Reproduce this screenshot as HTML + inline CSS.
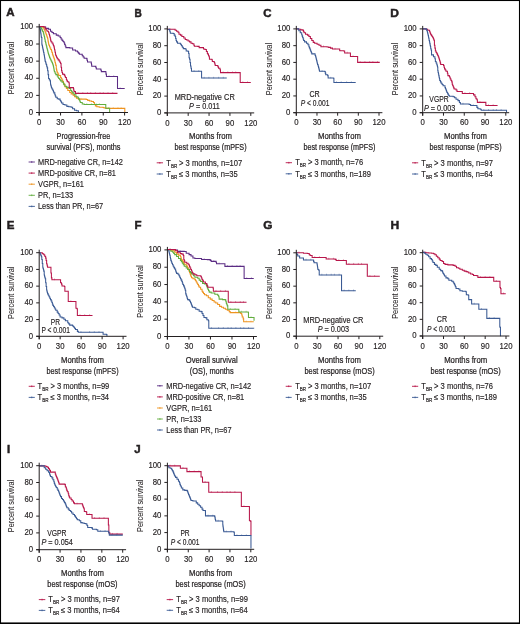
<!DOCTYPE html>
<html><head><meta charset="utf-8"><style>
html,body{margin:0;padding:0;background:#fff;}
body{width:520px;height:624px;overflow:hidden;position:relative;}
svg{position:absolute;left:0;top:0;display:block;will-change:transform;}
text{font-family:"Liberation Sans",sans-serif;fill:#231f20;stroke:#231f20;stroke-width:0.16px;}
.c{fill:none;stroke-width:1.05;stroke-linejoin:miter;}
.ax{fill:none;stroke:#231f20;stroke-width:1;}
.lm{fill:none;stroke-width:0.9;}
.cm{fill:none;stroke-width:0.7;opacity:0.6;}
</style></head><body>
<svg width="520" height="624" viewBox="0 0 520 624">
<rect x="0.5" y="0.5" width="519" height="622.75" fill="none" stroke="#000" stroke-width="1.1"/>
<rect x="0" y="622.6" width="520" height="1.4" fill="#000"/>
<text transform="translate(6.30 16.40) scale(1.000 1)" font-size="11.5" font-weight="bold" style="stroke-width:0.5px">A</text>
<path d="M39.44 26.44H42.81V26.92H45.69V28.37H48.58V29.33H50.50V31.25H51.94V32.45H53.38V33.65H56.27V35.10H58.19V36.06H60.12V37.50H61.08V38.94H62.04V40.38H63.00V41.59H63.96V42.79H64.60V44.39H65.24V45.99H65.88V47.60H69.73V48.08H72.62V50.00H75.50V50.96H77.42V51.92H78.38V53.12H79.35V54.33H82.23V55.77H83.19V56.97H84.15V58.17H86.73V58.85H87.12V60.43H87.50V62.02H91.06H91.28V63.40H91.51V64.78H91.73V66.15H95.38V66.35H95.87V67.69H96.35V69.04H100.67V69.23H101.01V70.43H101.35V71.63H105.48V71.73H105.96V74.13H106.44V76.54H117.02H117.50V88.56H124.71" stroke="#5b2c84" class="c"/>
<path d="M109.04 75.34v1.6M113.74 75.34v1.6M120.10 87.36v1.6" stroke="#5b2c84" class="cm"/>
<path d="M39.44 26.44H42.81V27.40H43.77V29.09H44.73V30.77H45.21V32.05H45.69V33.33H46.17V34.62H46.65V35.90H47.13V37.18H47.62V38.46H47.86V39.90H48.10V41.35H48.34V42.79H48.58V44.23H49.06V45.51H49.54V46.79H50.02V48.08H50.74V49.52H51.46V50.96H51.94V52.56H52.42V54.17H52.90V55.77H53.38V57.05H53.87V58.33H54.35V59.62H54.71V61.06H55.07V62.50H55.43V63.94H55.79V65.38H56.27V68.85H56.59V70.13H56.91V71.41H57.23V72.69H57.95V74.13H58.67V75.58H60.60V77.50H61.32V78.70H62.04V79.90H62.76V81.59H63.48V83.27H64.20V84.95H64.92V86.63H66.37V88.56H67.81V90.48H69.73V92.40H71.17V93.85H73.10V95.29H74.54V96.73H76.46V98.17H78.38V99.13H86.25V99.42H87.69V100.38H89.62V101.06H91.54V101.54H93.46V102.50H94.42V104.42H95.38V105.87H96.83V106.83H99.23V107.31H103.08V107.50H104.04V108.08H105.96V108.37H124.71H124.81V112.31" stroke="#ee9420" class="c"/>
<path d="M80.98 97.93v1.6M108.56 107.17v1.6M113.26 107.17v1.6M117.96 107.17v1.6M121.16 107.17v1.6" stroke="#ee9420" class="cm"/>
<path d="M39.44 26.44H40.40V27.64H41.37V28.85H42.01V30.13H42.65V31.41H43.29V32.69H43.61V33.97H43.93V35.26H44.25V36.54H44.57V38.14H44.89V39.74H45.21V41.35H45.57V42.79H45.93V44.23H46.29V45.67H46.65V47.12H46.97V48.40H47.29V49.68H47.62V50.96H47.94V52.24H48.26V53.53H48.58V54.81H49.06V56.09H49.54V57.37H50.02V58.65H50.66V59.94H51.30V61.22H51.94V62.50H52.42V63.78H52.90V65.06H53.38V66.35H53.62V67.69H53.87V69.04H54.11V70.38H54.35V71.73H55.07V73.17H55.79V74.62H57.23V76.06H57.95V77.26H58.67V78.46H59.63V79.66H60.60V80.87H62.04V82.31H63.48V84.23H64.92V86.15H66.37V87.12H67.81V87.60H69.25V88.56H70.69V90.48H71.65V91.68H72.62V92.88H74.06V94.81H75.98V96.73H77.90V97.69H78.62V98.89H79.35V100.10H79.83V101.30H80.31V102.50H82.23V103.94H84.15V104.42H105.48H105.77V108.27H109.33H109.62V112.31" stroke="#62ae3e" class="c"/>
<path d="M86.75 103.22v1.6M91.45 103.22v1.6M96.15 103.22v1.6M99.35 103.22v1.6" stroke="#62ae3e" class="cm"/>
<path d="M39.44 26.44H39.76V27.88H40.08V29.33H40.40V30.77H40.60V32.12H40.79V33.46H40.98V34.81H41.17V36.15H41.37V37.50H41.85V44.23H42.13V45.58H42.42V46.92H42.71V48.27H43.00V49.62H43.29V50.96H43.61V52.56H43.93V54.17H44.25V55.77H44.49V57.21H44.73V58.65H44.97V60.10H45.21V61.54H45.69V62.98H46.17V64.42H46.65V66.15H47.13V67.88H47.62V70.77H48.10V74.62H48.58V78.46H49.30V79.66H50.02V80.87H50.50V84.23H50.82V85.51H51.14V86.79H51.46V88.08H52.18V89.28H52.90V90.48H53.38V91.68H53.87V92.88H54.83V94.81H55.31V96.01H55.79V97.21H57.23V98.65H58.67V99.13H60.12V100.58H60.84V101.78H61.56V102.98H63.00V104.42H64.92V104.90H66.85V106.35H68.77V106.83H71.17V107.31H72.62V108.75H74.54V110.19H76.46V110.67H78.38V111.92" stroke="#3a5a94" class="c"/>
<path d="M39.44 26.44H43.77V26.92H45.21V28.85H46.17V30.05H47.13V31.25H48.58V32.69H49.06V34.29H49.54V35.90H50.02V37.50H50.34V38.94H50.66V40.38H50.98V41.83H51.94V43.03H52.90V44.23H53.38V45.43H53.87V46.63H54.19V48.08H54.51V49.52H54.83V50.96H55.15V52.56H55.47V54.17H55.79V55.77H56.51V57.21H57.23V58.65H58.19V59.86H59.15V61.06H59.88V62.26H60.60V63.46H61.08V67.31H61.56V70.77H62.04V72.45H62.52V74.13H63.96V74.62H64.68V76.06H65.40V77.50H66.37V79.42H66.85V80.62H67.33V81.83H68.77V82.79H69.25V87.60H73.10H73.42V88.88H73.74V90.16H74.06V91.44H75.50V93.37H117.50" stroke="#b8164a" class="c"/>
<path d="M78.10 92.17v1.6M82.80 92.17v1.6M87.50 92.17v1.6M90.70 92.17v1.6M95.40 92.17v1.6M100.10 92.17v1.6M103.30 92.17v1.6M108.00 92.17v1.6M112.70 92.17v1.6" stroke="#b8164a" class="cm"/>
<path d="M39.20 23.90V115.50M36.20 112.50H128.00" class="ax"/>
<text transform="translate(33.20 114.70) scale(0.907 1)" font-size="8.60" text-anchor="end">0</text>
<text transform="translate(33.20 97.58) scale(0.907 1)" font-size="8.60" text-anchor="end">20</text>
<text transform="translate(33.20 80.46) scale(0.907 1)" font-size="8.60" text-anchor="end">40</text>
<text transform="translate(33.20 63.34) scale(0.907 1)" font-size="8.60" text-anchor="end">60</text>
<text transform="translate(33.20 46.22) scale(0.907 1)" font-size="8.60" text-anchor="end">80</text>
<text transform="translate(33.20 29.10) scale(0.907 1)" font-size="8.60" text-anchor="end">100</text>
<text transform="translate(39.20 125.10) scale(0.907 1)" font-size="8.60" text-anchor="middle">0</text>
<text transform="translate(60.55 125.10) scale(0.907 1)" font-size="8.60" text-anchor="middle">30</text>
<text transform="translate(81.90 125.10) scale(0.907 1)" font-size="8.60" text-anchor="middle">60</text>
<text transform="translate(103.25 125.10) scale(0.907 1)" font-size="8.60" text-anchor="middle">90</text>
<text transform="translate(124.60 125.10) scale(0.907 1)" font-size="8.60" text-anchor="middle">120</text>
<path d="M36.20 112.50H39.20M36.20 95.38H39.20M36.20 78.26H39.20M36.20 61.14H39.20M36.20 44.02H39.20M36.20 26.90H39.20M39.20 112.50V115.50M60.55 112.50V115.50M81.90 112.50V115.50M103.25 112.50V115.50M124.60 112.50V115.50" class="ax"/>
<text transform="translate(14.40 68.00) rotate(-90)" x="0" y="0" font-size="9.40" text-anchor="middle" textLength="52.3" lengthAdjust="spacingAndGlyphs" style="stroke-width:0.05px">Percent survival</text>
<text x="83.50" y="138.50" font-size="9.40" text-anchor="middle" textLength="53.80" lengthAdjust="spacingAndGlyphs" style="stroke-width:0.24px">Progression-free</text>
<text x="83.50" y="149.60" font-size="9.40" text-anchor="middle" textLength="74.00" lengthAdjust="spacingAndGlyphs" style="stroke-width:0.24px">survival (PFS), months</text>
<path d="M28.60 162.00H34.90M31.75 161.20v1.6" stroke="#5b2c84" class="lm"/>
<text transform="translate(38.00 164.70) scale(0.892 1)" font-size="8.30" text-anchor="start">MRD-negative CR, n=142</text>
<path d="M28.60 173.10H34.90M31.75 172.30v1.6" stroke="#b8164a" class="lm"/>
<text transform="translate(38.00 175.80) scale(0.892 1)" font-size="8.30" text-anchor="start">MRD-positive CR, n=81</text>
<path d="M28.60 184.20H34.90M31.75 183.40v1.6" stroke="#ee9420" class="lm"/>
<text transform="translate(38.00 186.90) scale(0.892 1)" font-size="8.30" text-anchor="start">VGPR, n=161</text>
<path d="M28.60 195.30H34.90M31.75 194.50v1.6" stroke="#62ae3e" class="lm"/>
<text transform="translate(38.00 198.00) scale(0.892 1)" font-size="8.30" text-anchor="start">PR, n=133</text>
<path d="M28.60 206.40H34.90M31.75 205.60v1.6" stroke="#3a5a94" class="lm"/>
<text transform="translate(38.00 209.10) scale(0.892 1)" font-size="8.30" text-anchor="start">Less than PR, n=67</text>
<text transform="translate(134.60 16.60) scale(0.880 1)" font-size="11.5" font-weight="bold" style="stroke-width:0.5px">B</text>
<path d="M167.35 29.17H174.65H175.13V30.33H176.58V31.29H178.02V32.25H178.98V34.17H180.42V35.13H181.87V36.58H183.79V38.02H185.23V39.46H186.67V39.94H188.12V40.90H189.56V41.87H191.00V43.31H192.44V43.79H193.88V45.23H194.37V46.19H197.73V46.38H199.17V47.63H202.54H203.50V49.08H204.94V49.56H206.38V51.48H207.35V53.40H208.00V54.37H208.48V55.57H208.96V56.77H209.44V59.17H211.85V59.65H212.33V61.58H214.25V62.54H214.73V63.98H215.21V65.42H217.62V65.90H218.10V67.11H218.58V68.31H220.02V69.75H220.50V72.63H239.73V72.54H240.21V82.54H250.79" stroke="#b8164a" class="c"/>
<path d="M169.95 27.97v1.6M223.10 71.43v1.6M227.80 71.43v1.6M232.50 71.43v1.6M235.70 71.43v1.6M242.81 81.34v1.6M247.51 81.34v1.6" stroke="#b8164a" class="cm"/>
<path d="M167.35 29.17H169.37V29.85H169.85V31.77H170.33V33.21H173.21V33.50H174.17V35.13H175.13V36.58H175.62V38.50H176.10V40.42H176.58V41.87H177.54V43.31H179.94H180.42V44.27H181.38V45.71H182.35V47.15H183.31V48.60H185.23V49.08H186.19V51.00H188.12V51.48H188.60V53.40H189.08V57.73H189.56V59.17H190.04V62.54H190.52V65.90H191.00V68.31H191.48V71.29H201.10H201.58V78.02H216.00H226.75" stroke="#3a5a94" class="c"/>
<path d="M194.08 70.09v1.6M198.78 70.09v1.6M204.18 76.82v1.6M208.88 76.82v1.6M213.58 76.82v1.6M218.60 76.82v1.6M223.30 76.82v1.6" stroke="#3a5a94" class="cm"/>
<path d="M167.30 25.90V115.90M164.30 112.90H254.20" class="ax"/>
<text transform="translate(161.30 115.10) scale(0.907 1)" font-size="8.60" text-anchor="end">0</text>
<text transform="translate(161.30 98.30) scale(0.907 1)" font-size="8.60" text-anchor="end">20</text>
<text transform="translate(161.30 81.50) scale(0.907 1)" font-size="8.60" text-anchor="end">40</text>
<text transform="translate(161.30 64.70) scale(0.907 1)" font-size="8.60" text-anchor="end">60</text>
<text transform="translate(161.30 47.90) scale(0.907 1)" font-size="8.60" text-anchor="end">80</text>
<text transform="translate(161.30 31.10) scale(0.907 1)" font-size="8.60" text-anchor="end">100</text>
<text transform="translate(167.30 125.50) scale(0.907 1)" font-size="8.60" text-anchor="middle">0</text>
<text transform="translate(188.18 125.50) scale(0.907 1)" font-size="8.60" text-anchor="middle">30</text>
<text transform="translate(209.05 125.50) scale(0.907 1)" font-size="8.60" text-anchor="middle">60</text>
<text transform="translate(229.93 125.50) scale(0.907 1)" font-size="8.60" text-anchor="middle">90</text>
<text transform="translate(250.80 125.50) scale(0.907 1)" font-size="8.60" text-anchor="middle">120</text>
<path d="M164.30 112.90H167.30M164.30 96.10H167.30M164.30 79.30H167.30M164.30 62.50H167.30M164.30 45.70H167.30M164.30 28.90H167.30M167.30 112.90V115.90M188.18 112.90V115.90M209.05 112.90V115.90M229.93 112.90V115.90M250.80 112.90V115.90" class="ax"/>
<text transform="translate(142.50 69.20) rotate(-90)" x="0" y="0" font-size="9.40" text-anchor="middle" textLength="52.3" lengthAdjust="spacingAndGlyphs" style="stroke-width:0.05px">Percent survival</text>
<text x="210.55" y="138.50" font-size="9.40" text-anchor="middle" textLength="43.00" lengthAdjust="spacingAndGlyphs" style="stroke-width:0.24px">Months from</text>
<text x="210.55" y="149.60" font-size="9.40" text-anchor="middle" textLength="72.00" lengthAdjust="spacingAndGlyphs" style="stroke-width:0.24px">best response (mPFS)</text>
<text transform="translate(204.70 100.40) scale(0.892 1)" font-size="8.30" text-anchor="middle">MRD-negative CR</text>
<text transform="translate(204.50 108.90) scale(0.878 1)" font-size="8.30" text-anchor="middle"><tspan font-style="italic">P</tspan> = 0.011</text>
<path d="M156.70 162.80H163.00M159.85 162.00v1.6" stroke="#b8164a" class="lm"/>
<text transform="translate(166.30 165.50) scale(0.914 1)" font-size="8.30" text-anchor="start">T<tspan font-size="5.0" dy="2.0">BR</tspan><tspan dy="-2.0" dx="2.0">&gt; 3 months, n=107</tspan></text>
<path d="M156.70 174.00H163.00M159.85 173.20v1.6" stroke="#3a5a94" class="lm"/>
<text transform="translate(166.30 176.70) scale(0.914 1)" font-size="8.30" text-anchor="start">T<tspan font-size="5.0" dy="2.0">BR</tspan><tspan dy="-2.0" dx="2.0">≤ 3 months, n=35</tspan></text>
<text transform="translate(263.20 16.60) scale(1.000 1)" font-size="11.5" font-weight="bold" style="stroke-width:0.5px">C</text>
<path d="M296.31 28.88H298.33V29.17H300.73V29.85H303.13V30.62H303.62V31.67H304.10V32.73H305.54V34.17H307.46V35.13H308.90V36.58H310.35V38.50H311.79V40.42H313.23V42.35H314.67V43.31H317.08V44.27H319.00V45.23H320.92V46.67H327.17V46.96H328.62V47.35H330.54V48.12H332.46V49.08H338.71H339.67V50.52H339.85V50.81H343.69V51.00H344.65V52.92H349.94H350.42V56.58H357.15H357.63V62.35H379.75" stroke="#b8164a" class="c"/>
<path d="M323.52 45.47v1.6M335.06 47.88v1.6M347.25 51.72v1.6M353.02 55.38v1.6M360.23 61.15v1.6M364.93 61.15v1.6M369.63 61.15v1.6M372.83 61.15v1.6M377.53 61.15v1.6" stroke="#b8164a" class="cm"/>
<path d="M296.31 28.88H298.81V30.81H300.25V32.73H301.69V34.65H302.17V36.10H302.65V37.54H303.13V38.98H303.62V40.42H304.58V41.87H306.50V43.31H307.94V44.75H308.90V46.67H309.38V47.88H309.87V49.08H310.35V50.28H310.83V51.48H311.31V52.68H311.79V53.88H314.67V54.08H315.15V55.42H315.63V56.77H315.96V58.05H316.28V59.33H316.60V60.62H316.92V61.90H317.24V63.18H317.56V64.46H318.04V65.90H318.52V67.35H318.84V68.66H319.16V69.97H319.48V71.29H324.77V71.58H325.25V73.12H325.73V74.65H327.65V75.62H328.13V78.02H333.42V78.31H333.90V82.54H344.00H355.71" stroke="#3a5a94" class="c"/>
<path d="M322.08 70.09v1.6M330.73 76.82v1.6M336.50 81.34v1.6M341.20 81.34v1.6M346.60 81.34v1.6M351.30 81.34v1.6" stroke="#3a5a94" class="cm"/>
<path d="M296.30 25.90V115.70M293.30 112.70H382.40" class="ax"/>
<text transform="translate(290.30 114.90) scale(0.907 1)" font-size="8.60" text-anchor="end">0</text>
<text transform="translate(290.30 98.14) scale(0.907 1)" font-size="8.60" text-anchor="end">20</text>
<text transform="translate(290.30 81.38) scale(0.907 1)" font-size="8.60" text-anchor="end">40</text>
<text transform="translate(290.30 64.62) scale(0.907 1)" font-size="8.60" text-anchor="end">60</text>
<text transform="translate(290.30 47.86) scale(0.907 1)" font-size="8.60" text-anchor="end">80</text>
<text transform="translate(290.30 31.10) scale(0.907 1)" font-size="8.60" text-anchor="end">100</text>
<text transform="translate(296.30 125.30) scale(0.907 1)" font-size="8.60" text-anchor="middle">0</text>
<text transform="translate(316.98 125.30) scale(0.907 1)" font-size="8.60" text-anchor="middle">30</text>
<text transform="translate(337.65 125.30) scale(0.907 1)" font-size="8.60" text-anchor="middle">60</text>
<text transform="translate(358.32 125.30) scale(0.907 1)" font-size="8.60" text-anchor="middle">90</text>
<text transform="translate(379.00 125.30) scale(0.907 1)" font-size="8.60" text-anchor="middle">120</text>
<path d="M293.30 112.70H296.30M293.30 95.94H296.30M293.30 79.18H296.30M293.30 62.42H296.30M293.30 45.66H296.30M293.30 28.90H296.30M296.30 112.70V115.70M316.98 112.70V115.70M337.65 112.70V115.70M358.32 112.70V115.70M379.00 112.70V115.70" class="ax"/>
<text transform="translate(271.50 69.10) rotate(-90)" x="0" y="0" font-size="9.40" text-anchor="middle" textLength="52.3" lengthAdjust="spacingAndGlyphs" style="stroke-width:0.05px">Percent survival</text>
<text x="339.45" y="138.50" font-size="9.40" text-anchor="middle" textLength="43.00" lengthAdjust="spacingAndGlyphs" style="stroke-width:0.24px">Months from</text>
<text x="339.45" y="149.60" font-size="9.40" text-anchor="middle" textLength="72.00" lengthAdjust="spacingAndGlyphs" style="stroke-width:0.24px">best response (mPFS)</text>
<text transform="translate(314.60 96.60) scale(0.856 1)" font-size="8.30" text-anchor="middle">CR</text>
<text transform="translate(315.00 106.30) scale(0.802 1)" font-size="8.30" text-anchor="middle"><tspan font-style="italic">P</tspan> &lt; 0.001</text>
<path d="M285.70 162.70H292.00M288.85 161.90v1.6" stroke="#b8164a" class="lm"/>
<text transform="translate(295.20 165.40) scale(0.914 1)" font-size="8.30" text-anchor="start">T<tspan font-size="5.0" dy="2.0">BR</tspan><tspan dy="-2.0" dx="2.0">&gt; 3 month, n=76</tspan></text>
<path d="M285.70 173.80H292.00M288.85 173.00v1.6" stroke="#3a5a94" class="lm"/>
<text transform="translate(295.20 176.50) scale(0.914 1)" font-size="8.30" text-anchor="start">T<tspan font-size="5.0" dy="2.0">BR</tspan><tspan dy="-2.0" dx="2.0">≤ 3 months, n=189</tspan></text>
<text transform="translate(390.30 16.60) scale(1.040 1)" font-size="11.5" font-weight="bold" style="stroke-width:0.5px">D</text>
<path d="M422.88 28.88H426.25V29.17H427.69V30.33H429.62V31.77H430.10V32.97H430.58V34.17H431.30V35.38H432.02V36.58H432.74V37.78H433.46V38.98H433.94V40.18H434.42V41.38V45.23H434.90V48.12H435.38V51.00H436.11V52.44H436.83V53.88H437.55V55.33H438.27V56.77H438.75V57.97H439.23V59.17H439.59V60.50H439.95V61.82H440.31V63.14H440.67V64.46H442.60H443.56V65.42H444.04V67.15H444.52V68.88H445.24V70.09H445.96V71.29H447.40V73.21H447.88V75.62H449.33V76.58H449.81V77.78H450.29V78.98H451.01V80.42H451.73V81.87H452.21V84.27H452.69V85.47H453.17V86.67H453.65V87.88H454.13V89.08H456.06V90.04H457.02V91.48H461.35H462.31V93.40H472.58H473.54V94.85H474.98V96.77H475.94V98.69H476.90V99.65H477.38V102.35H485.56H485.85V105.42H497.58" stroke="#b8164a" class="c"/>
<path d="M464.91 92.20v1.6M469.61 92.20v1.6M479.98 101.15v1.6M488.45 104.22v1.6M493.15 104.22v1.6" stroke="#b8164a" class="cm"/>
<path d="M422.88 28.88H426.25V29.37H426.73V30.57H427.21V31.77H427.53V33.05H427.85V34.33H428.17V35.62H428.49V37.22H428.81V38.82H429.13V40.42H429.46V42.03H429.78V43.63H430.10V45.23H430.42V46.83H430.74V48.44H431.06V50.04H431.54V54.85H433.46V56.77H434.90V58.69H435.38V61.58H436.11V63.02H436.83V64.46H437.15V65.74H437.47V67.03H437.79V68.31V70.81H438.11V72.41H438.43V74.01H438.75V75.62H439.07V77.22H439.39V78.82H439.71V80.42H440.43V81.87H441.15V83.31H442.12V84.51H443.08V85.71H445.00V87.63H445.48V88.84H445.96V90.04H446.44V91.24H446.92V92.44H447.64V93.88H448.37V95.33H449.33V96.29H453.17V96.77H454.62V97.73H456.06V99.17H457.98V100.62H459.42V102.54H460.38V103.98H468.08H468.25H469.21V104.46H470.65V105.42H476.42H476.90V107.35H477.87V108.79H480.27V109.27H481.23V110.23H506.23H506.52V112.35" stroke="#3a5a94" class="c"/>
<path d="M462.98 102.78v1.6M473.25 104.22v1.6M483.83 109.03v1.6M488.53 109.03v1.6M493.23 109.03v1.6M496.43 109.03v1.6M501.13 109.03v1.6" stroke="#3a5a94" class="cm"/>
<path d="M422.70 25.90V115.70M419.70 112.70H509.20" class="ax"/>
<text transform="translate(416.70 114.90) scale(0.907 1)" font-size="8.60" text-anchor="end">0</text>
<text transform="translate(416.70 98.14) scale(0.907 1)" font-size="8.60" text-anchor="end">20</text>
<text transform="translate(416.70 81.38) scale(0.907 1)" font-size="8.60" text-anchor="end">40</text>
<text transform="translate(416.70 64.62) scale(0.907 1)" font-size="8.60" text-anchor="end">60</text>
<text transform="translate(416.70 47.86) scale(0.907 1)" font-size="8.60" text-anchor="end">80</text>
<text transform="translate(416.70 31.10) scale(0.907 1)" font-size="8.60" text-anchor="end">100</text>
<text transform="translate(422.70 125.30) scale(0.907 1)" font-size="8.60" text-anchor="middle">0</text>
<text transform="translate(443.48 125.30) scale(0.907 1)" font-size="8.60" text-anchor="middle">30</text>
<text transform="translate(464.25 125.30) scale(0.907 1)" font-size="8.60" text-anchor="middle">60</text>
<text transform="translate(485.02 125.30) scale(0.907 1)" font-size="8.60" text-anchor="middle">90</text>
<text transform="translate(505.80 125.30) scale(0.907 1)" font-size="8.60" text-anchor="middle">120</text>
<path d="M419.70 112.70H422.70M419.70 95.94H422.70M419.70 79.18H422.70M419.70 62.42H422.70M419.70 45.66H422.70M419.70 28.90H422.70M422.70 112.70V115.70M443.48 112.70V115.70M464.25 112.70V115.70M485.02 112.70V115.70M505.80 112.70V115.70" class="ax"/>
<text transform="translate(397.90 69.10) rotate(-90)" x="0" y="0" font-size="9.40" text-anchor="middle" textLength="52.3" lengthAdjust="spacingAndGlyphs" style="stroke-width:0.05px">Percent survival</text>
<text x="465.55" y="138.50" font-size="9.40" text-anchor="middle" textLength="43.00" lengthAdjust="spacingAndGlyphs" style="stroke-width:0.24px">Months from</text>
<text x="465.55" y="149.60" font-size="9.40" text-anchor="middle" textLength="72.00" lengthAdjust="spacingAndGlyphs" style="stroke-width:0.24px">best response (mPFS)</text>
<text transform="translate(439.00 101.80) scale(0.820 1)" font-size="8.30" text-anchor="middle">VGPR</text>
<text transform="translate(439.60 111.00) scale(0.878 1)" font-size="8.30" text-anchor="middle"><tspan font-style="italic">P</tspan> = 0.003</text>
<path d="M412.00 162.80H418.20M415.10 162.00v1.6" stroke="#b8164a" class="lm"/>
<text transform="translate(421.30 165.50) scale(0.914 1)" font-size="8.30" text-anchor="start">T<tspan font-size="5.0" dy="2.0">BR</tspan><tspan dy="-2.0" dx="2.0">&gt; 3 months, n=97</tspan></text>
<path d="M412.00 174.00H418.20M415.10 173.20v1.6" stroke="#3a5a94" class="lm"/>
<text transform="translate(421.30 176.70) scale(0.914 1)" font-size="8.30" text-anchor="start">T<tspan font-size="5.0" dy="2.0">BR</tspan><tspan dy="-2.0" dx="2.0">≤ 3 months, n=64</tspan></text>
<text transform="translate(6.70 228.90) scale(1.000 1)" font-size="11.5" font-weight="bold" style="stroke-width:0.5px">E</text>
<path d="M39.21 252.65H41.81H42.29V253.81H43.73V254.77H44.69V256.21H45.65V258.13H46.13V260.54H46.62V263.42H46.94V264.71H47.26V265.99H47.58V267.27H50.46H50.94V273.04H51.42V277.85H51.90V279.77H60.08H60.56V282.65H61.52V284.10H62.00V286.02H64.40V286.50H64.88V291.31H68.25V301.54H75.46H75.94V308.27H76.90V308.75H77.38V315.48H87.00H92.50" stroke="#b8164a" class="c"/>
<path d="M54.50 278.57v1.6M70.85 300.34v1.6M79.98 314.28v1.6M84.68 314.28v1.6M89.60 314.28v1.6" stroke="#b8164a" class="cm"/>
<path d="M39.21 252.65H40.37V254.29H40.85V255.49H41.33V256.69H41.81V259.58H42.29V263.42H42.77V267.27H43.09V268.55H43.41V269.83H43.73V271.12H44.21V274.96H44.53V276.24H44.85V277.53H45.17V278.81H45.65V282.65H46.13V286.50H46.62V290.00H46.94V291.28H47.26V292.56H47.58V293.85H48.30V295.29H49.02V296.73H49.74V298.17H50.46V299.62H51.18V301.06H51.90V302.50H52.38V303.94H52.87V305.38H53.59V306.59H54.31V307.79H55.03V308.99H55.75V310.19H57.19V312.12H58.15V313.56H59.12V315.00H60.08V316.92H62.00V317.88H63.92V319.33H65.37V320.77H67.77V322.69H68.73V323.89H69.69V325.10H72.58V326.06H73.54V327.02H74.50V328.22H75.46V329.42H77.38V331.35H78.35V332.31H87.00H102.60H103.08V334.23H106.44V334.42H106.92V336.15" stroke="#3a5a94" class="c"/>
<path d="M80.95 331.11v1.6M89.60 331.11v1.6M94.30 331.11v1.6M99.00 331.11v1.6" stroke="#3a5a94" class="cm"/>
<path d="M39.20 249.70V339.30M36.20 336.30H126.50" class="ax"/>
<text transform="translate(33.20 338.50) scale(0.907 1)" font-size="8.60" text-anchor="end">0</text>
<text transform="translate(33.20 321.78) scale(0.907 1)" font-size="8.60" text-anchor="end">20</text>
<text transform="translate(33.20 305.06) scale(0.907 1)" font-size="8.60" text-anchor="end">40</text>
<text transform="translate(33.20 288.34) scale(0.907 1)" font-size="8.60" text-anchor="end">60</text>
<text transform="translate(33.20 271.62) scale(0.907 1)" font-size="8.60" text-anchor="end">80</text>
<text transform="translate(33.20 254.90) scale(0.907 1)" font-size="8.60" text-anchor="end">100</text>
<text transform="translate(39.20 348.90) scale(0.907 1)" font-size="8.60" text-anchor="middle">0</text>
<text transform="translate(60.17 348.90) scale(0.907 1)" font-size="8.60" text-anchor="middle">30</text>
<text transform="translate(81.15 348.90) scale(0.907 1)" font-size="8.60" text-anchor="middle">60</text>
<text transform="translate(102.12 348.90) scale(0.907 1)" font-size="8.60" text-anchor="middle">90</text>
<text transform="translate(123.10 348.90) scale(0.907 1)" font-size="8.60" text-anchor="middle">120</text>
<path d="M36.20 336.30H39.20M36.20 319.58H39.20M36.20 302.86H39.20M36.20 286.14H39.20M36.20 269.42H39.20M36.20 252.70H39.20M39.20 336.30V339.30M60.17 336.30V339.30M81.15 336.30V339.30M102.12 336.30V339.30M123.10 336.30V339.30" class="ax"/>
<text transform="translate(14.40 292.80) rotate(-90)" x="0" y="0" font-size="9.40" text-anchor="middle" textLength="52.3" lengthAdjust="spacingAndGlyphs" style="stroke-width:0.05px">Percent survival</text>
<text x="82.55" y="362.50" font-size="9.40" text-anchor="middle" textLength="43.00" lengthAdjust="spacingAndGlyphs" style="stroke-width:0.24px">Months from</text>
<text x="82.55" y="373.60" font-size="9.40" text-anchor="middle" textLength="72.00" lengthAdjust="spacingAndGlyphs" style="stroke-width:0.24px">best response (mPFS)</text>
<text transform="translate(55.40 324.90) scale(0.802 1)" font-size="8.30" text-anchor="middle">PR</text>
<text transform="translate(55.70 332.90) scale(0.802 1)" font-size="8.30" text-anchor="middle">P &lt; 0.001</text>
<path d="M28.70 386.30H34.80M31.75 385.50v1.6" stroke="#b8164a" class="lm"/>
<text transform="translate(37.60 389.00) scale(0.914 1)" font-size="8.30" text-anchor="start">T<tspan font-size="5.0" dy="2.0">BR</tspan><tspan dy="-2.0" dx="2.0">&gt; 3 months, n=99</tspan></text>
<path d="M28.70 397.40H34.80M31.75 396.60v1.6" stroke="#3a5a94" class="lm"/>
<text transform="translate(37.60 400.10) scale(0.914 1)" font-size="8.30" text-anchor="start">T<tspan font-size="5.0" dy="2.0">BR</tspan><tspan dy="-2.0" dx="2.0">≤ 3 months, n=34</tspan></text>
<text transform="translate(134.60 228.90) scale(1.000 1)" font-size="11.5" font-weight="bold" style="stroke-width:0.5px">F</text>
<path d="M167.44 249.81H173.69V250.00H177.54V251.35H184.27V251.54H186.19V253.17H189.08V254.62H191.00V256.06H192.92V257.98H194.85V258.46H198.69H201.58V259.42H207.35V259.62H210.23V260.38H211.19V261.35H215.77H216.15V262.55H216.54V263.75H224.42H224.90V266.35H243.85H244.13V278.46H253.75" stroke="#5b2c84" class="c"/>
<path d="M170.04 248.61v1.6M180.14 250.15v1.6M204.18 258.22v1.6M213.79 260.15v1.6M219.14 262.55v1.6M227.50 265.15v1.6M232.20 265.15v1.6M236.90 265.15v1.6M240.10 265.15v1.6M246.73 277.26v1.6M251.43 277.26v1.6" stroke="#5b2c84" class="cm"/>
<path d="M167.44 249.81H171.77V250.77H174.65V252.21H176.58V254.13H178.50V255.10H180.42V256.54H180.90V257.98H181.38V259.42H182.11V260.62H182.83V261.83H183.55V263.03H184.27V264.23H186.19V265.19H186.91V266.39H187.63V267.60H188.12V268.80H188.60V270.00H189.08V271.28H189.56V272.56H190.04V273.85H190.52V275.13H191.00V276.41H191.48V277.69H192.92V278.65H194.85V279.62H195.57V280.82H196.29V282.02H197.01V283.22H197.73V284.42H198.45V285.87H199.17V287.31H200.62V289.23H202.06V291.15H202.78V292.36H203.50V293.56H204.46V294.81H206.38V295.77H208.31V297.69H210.23V299.13H212.15V300.58H214.08V302.02H215.77V302.98H217.69V304.42H219.62V306.35H221.54V307.31H223.46V308.27H225.38V309.23H227.31V310.19H229.23V311.63H230.19V312.60H233.08H239.81H240.77V313.56H241.73V315.00H242.21V316.92H243.17V318.85H243.65V321.73H253.75" stroke="#ee9420" class="c"/>
<path d="M235.68 311.40v1.6M246.25 320.53v1.6M250.95 320.53v1.6" stroke="#ee9420" class="cm"/>
<path d="M167.44 249.81H170.81V251.25H172.73V252.21H173.69V253.41H174.65V254.62H176.58V256.54H178.50V258.46H180.42V260.38H181.38V261.83H182.35V263.27H183.31V264.71H184.27V266.15H186.19V268.08H187.63V269.52H189.56V271.44H190.52V272.64H191.48V273.85H193.40V275.77H194.85V277.21H197.73V278.17H199.17V280.10H200.62V281.54H202.54V283.46H204.46V283.94H206.38V285.38H206.87V286.67H207.35V287.95H207.83V289.23H208.55V290.67H209.27V292.12H211.19V293.08H214.81V294.33H217.69V295.29H218.65V296.73H219.13V299.13H222.50V299.62H225.38V300.10H225.87V301.78H226.35V303.46H226.83V304.66H227.31V305.87H227.79V309.23H238.37H238.85V311.92H247.98V312.31H248.46V317.40H253.75H254.04V320.77" stroke="#62ae3e" class="c"/>
<path d="M230.39 308.03v1.6M235.09 308.03v1.6M241.45 310.72v1.6M246.15 310.72v1.6M251.06 316.20v1.6" stroke="#62ae3e" class="cm"/>
<path d="M167.44 249.81H168.88V251.73H169.21V253.01H169.53V254.29H169.85V255.58H170.17V257.18H170.49V258.78H170.81V260.38H171.29V261.83H171.77V263.27H172.49V264.71H173.21V266.15H173.93V267.60H174.65V269.04H175.62V270.96H176.10V272.16H176.58V273.37H178.02V274.33H178.98V275.77H179.70V277.21H180.42V278.65H181.14V280.10H181.87V281.54H182.35V282.98H182.83V284.42H183.55V285.87H184.27V287.31H184.75V288.75H185.23V290.19H185.71V293.85H186.19V295.29H186.67V296.73H187.15V298.17H187.63V299.62H189.08V300.10H189.80V301.30H190.52V302.50H191.00V303.70H191.48V304.90H191.96V306.11H192.44V307.31H194.37V307.79H195.81V309.23H197.73V309.71H199.17V311.15H201.10V311.63H202.06V313.56H203.02V315.48H203.98V317.40H205.90V317.88H206.87V319.81H208.31V320.77H208.79V328.27H216.00H253.75V328.46" stroke="#3a5a94" class="c"/>
<path d="M211.39 327.07v1.6M218.60 327.07v1.6M223.30 327.07v1.6M228.00 327.07v1.6M231.20 327.07v1.6M235.90 327.07v1.6M240.60 327.07v1.6M243.80 327.07v1.6M248.50 327.07v1.6" stroke="#3a5a94" class="cm"/>
<path d="M167.44 249.52H173.69H175.62V250.77H177.54V252.69H180.42V253.46H181.87V254.13H183.31V255.58H183.79V259.42H184.27V260.87H184.75V262.31H186.67V263.27H188.12V264.23H189.08V265.19H189.56V266.63H190.04V268.08H190.76V269.52H191.48V270.96H192.20V272.40H192.92V273.85H194.85V274.81H196.77V275.77H200.62V276.25H201.34V277.93H202.06V279.62H202.78V280.82H203.50V282.02H205.42V283.46H206.87V284.90H207.35V286.11H207.83V287.31H211.19H213.12V288.27H213.37V291.15H227.79H228.27V302.31H246.54" stroke="#b8164a" class="c"/>
<path d="M170.04 248.32v1.6M215.97 289.95v1.6M220.67 289.95v1.6M225.37 289.95v1.6M230.87 301.11v1.6M235.57 301.11v1.6M240.27 301.11v1.6M243.47 301.11v1.6" stroke="#b8164a" class="cm"/>
<path d="M167.40 246.90V339.50M164.40 336.50H256.90" class="ax"/>
<text transform="translate(161.40 338.70) scale(0.907 1)" font-size="8.60" text-anchor="end">0</text>
<text transform="translate(161.40 321.38) scale(0.907 1)" font-size="8.60" text-anchor="end">20</text>
<text transform="translate(161.40 304.06) scale(0.907 1)" font-size="8.60" text-anchor="end">40</text>
<text transform="translate(161.40 286.74) scale(0.907 1)" font-size="8.60" text-anchor="end">60</text>
<text transform="translate(161.40 269.42) scale(0.907 1)" font-size="8.60" text-anchor="end">80</text>
<text transform="translate(161.40 252.10) scale(0.907 1)" font-size="8.60" text-anchor="end">100</text>
<text transform="translate(167.40 349.10) scale(0.907 1)" font-size="8.60" text-anchor="middle">0</text>
<text transform="translate(188.93 349.10) scale(0.907 1)" font-size="8.60" text-anchor="middle">30</text>
<text transform="translate(210.45 349.10) scale(0.907 1)" font-size="8.60" text-anchor="middle">60</text>
<text transform="translate(231.97 349.10) scale(0.907 1)" font-size="8.60" text-anchor="middle">90</text>
<text transform="translate(253.50 349.10) scale(0.907 1)" font-size="8.60" text-anchor="middle">120</text>
<path d="M164.40 336.50H167.40M164.40 319.18H167.40M164.40 301.86H167.40M164.40 284.54H167.40M164.40 267.22H167.40M164.40 249.90H167.40M167.40 336.50V339.50M188.93 336.50V339.50M210.45 336.50V339.50M231.97 336.50V339.50M253.50 336.50V339.50" class="ax"/>
<text transform="translate(142.60 291.50) rotate(-90)" x="0" y="0" font-size="9.40" text-anchor="middle" textLength="52.3" lengthAdjust="spacingAndGlyphs" style="stroke-width:0.05px">Percent survival</text>
<text x="211.75" y="362.50" font-size="9.40" text-anchor="middle" textLength="51.80" lengthAdjust="spacingAndGlyphs" style="stroke-width:0.24px">Overall survival</text>
<text x="211.75" y="373.60" font-size="9.40" text-anchor="middle" textLength="43.80" lengthAdjust="spacingAndGlyphs" style="stroke-width:0.24px">(OS), months</text>
<path d="M157.00 385.80H162.80M159.90 385.00v1.6" stroke="#5b2c84" class="lm"/>
<text transform="translate(166.30 388.50) scale(0.892 1)" font-size="8.30" text-anchor="start">MRD-negative CR, n=142</text>
<path d="M157.00 396.90H162.80M159.90 396.10v1.6" stroke="#b8164a" class="lm"/>
<text transform="translate(166.30 399.60) scale(0.892 1)" font-size="8.30" text-anchor="start">MRD-positive CR, n=81</text>
<path d="M157.00 408.00H162.80M159.90 407.20v1.6" stroke="#ee9420" class="lm"/>
<text transform="translate(166.30 410.70) scale(0.892 1)" font-size="8.30" text-anchor="start">VGPR, n=161</text>
<path d="M157.00 419.00H162.80M159.90 418.20v1.6" stroke="#62ae3e" class="lm"/>
<text transform="translate(166.30 421.70) scale(0.892 1)" font-size="8.30" text-anchor="start">PR, n=133</text>
<path d="M157.00 430.00H162.80M159.90 429.20v1.6" stroke="#3a5a94" class="lm"/>
<text transform="translate(166.30 432.70) scale(0.892 1)" font-size="8.30" text-anchor="start">Less than PR, n=67</text>
<text transform="translate(263.30 229.00) scale(1.030 1)" font-size="11.5" font-weight="bold" style="stroke-width:0.5px">G</text>
<path d="M296.35 252.81H303.46V253.19H307.31V253.58H309.23V254.73H310.19V255.50H312.12V257.42H325.58H326.15V258.96H335.19V259.35H336.15V260.50H345.77H346.35V264.15H366.92H367.31V276.27H379.81" stroke="#b8164a" class="c"/>
<path d="M298.95 251.61v1.6M314.72 256.22v1.6M319.42 256.22v1.6M328.75 257.76v1.6M333.45 257.76v1.6M338.75 259.30v1.6M343.45 259.30v1.6M348.95 262.95v1.6M353.65 262.95v1.6M358.35 262.95v1.6M361.55 262.95v1.6M369.91 275.07v1.6M374.61 275.07v1.6" stroke="#b8164a" class="cm"/>
<path d="M296.35 252.81H297.02V254.44H297.69V256.08H299.62V258.00H303.46V259.92H313.08H313.56V261.37H314.04V262.81H316.92V263.19H317.12V264.46H317.31V265.73H317.50V267.00H317.69V268.27H317.88V269.54H318.85V270.50H319.23V274.92H341.54V290.69H355.77" stroke="#3a5a94" class="c"/>
<path d="M306.06 258.72v1.6M310.76 258.72v1.6M321.83 273.72v1.6M326.53 273.72v1.6M331.23 273.72v1.6M334.43 273.72v1.6M339.13 273.72v1.6M344.14 289.49v1.6M348.84 289.49v1.6M353.54 289.49v1.6" stroke="#3a5a94" class="cm"/>
<path d="M296.30 249.80V339.20M293.30 336.20H383.20" class="ax"/>
<text transform="translate(290.30 338.40) scale(0.907 1)" font-size="8.60" text-anchor="end">0</text>
<text transform="translate(290.30 321.72) scale(0.907 1)" font-size="8.60" text-anchor="end">20</text>
<text transform="translate(290.30 305.04) scale(0.907 1)" font-size="8.60" text-anchor="end">40</text>
<text transform="translate(290.30 288.36) scale(0.907 1)" font-size="8.60" text-anchor="end">60</text>
<text transform="translate(290.30 271.68) scale(0.907 1)" font-size="8.60" text-anchor="end">80</text>
<text transform="translate(290.30 255.00) scale(0.907 1)" font-size="8.60" text-anchor="end">100</text>
<text transform="translate(296.30 348.80) scale(0.907 1)" font-size="8.60" text-anchor="middle">0</text>
<text transform="translate(317.18 348.80) scale(0.907 1)" font-size="8.60" text-anchor="middle">30</text>
<text transform="translate(338.05 348.80) scale(0.907 1)" font-size="8.60" text-anchor="middle">60</text>
<text transform="translate(358.93 348.80) scale(0.907 1)" font-size="8.60" text-anchor="middle">90</text>
<text transform="translate(379.80 348.80) scale(0.907 1)" font-size="8.60" text-anchor="middle">120</text>
<path d="M293.30 336.20H296.30M293.30 319.52H296.30M293.30 302.84H296.30M293.30 286.16H296.30M293.30 269.48H296.30M293.30 252.80H296.30M296.30 336.20V339.20M317.18 336.20V339.20M338.05 336.20V339.20M358.93 336.20V339.20M379.80 336.20V339.20" class="ax"/>
<text transform="translate(271.50 292.80) rotate(-90)" x="0" y="0" font-size="9.40" text-anchor="middle" textLength="52.3" lengthAdjust="spacingAndGlyphs" style="stroke-width:0.05px">Percent survival</text>
<text x="339.55" y="362.50" font-size="9.40" text-anchor="middle" textLength="43.00" lengthAdjust="spacingAndGlyphs" style="stroke-width:0.24px">Months from</text>
<text x="339.55" y="373.60" font-size="9.40" text-anchor="middle" textLength="70.20" lengthAdjust="spacingAndGlyphs" style="stroke-width:0.24px">best response (mOS)</text>
<text transform="translate(333.30 322.60) scale(0.892 1)" font-size="8.30" text-anchor="middle">MRD-negative CR</text>
<text transform="translate(333.30 331.60) scale(0.878 1)" font-size="8.30" text-anchor="middle"><tspan font-style="italic">P</tspan> = 0.003</text>
<path d="M285.70 386.30H291.70M288.70 385.50v1.6" stroke="#b8164a" class="lm"/>
<text transform="translate(295.20 389.00) scale(0.914 1)" font-size="8.30" text-anchor="start">T<tspan font-size="5.0" dy="2.0">BR</tspan><tspan dy="-2.0" dx="2.0">&gt; 3 months, n=107</tspan></text>
<path d="M285.70 397.40H291.70M288.70 396.60v1.6" stroke="#3a5a94" class="lm"/>
<text transform="translate(295.20 400.10) scale(0.914 1)" font-size="8.30" text-anchor="start">T<tspan font-size="5.0" dy="2.0">BR</tspan><tspan dy="-2.0" dx="2.0">≤ 3 months, n=35</tspan></text>
<text transform="translate(390.40 228.90) scale(1.050 1)" font-size="11.5" font-weight="bold" style="stroke-width:0.5px">H</text>
<path d="M422.69 252.37H425.77V252.65H428.65V253.04H431.54V253.33H433.46V253.81H434.90V254.77H436.35V256.21H437.79V257.65H439.23V259.10H440.19V260.54H442.12V261.50H443.56V263.42H445.00V264.38H447.88V264.87H450.77H453.17V265.35H455.10V266.31H456.54V267.75H458.46V268.23H459.90V269.19H462.31V270.15H464.23V271.12H466.15V271.60H467.29V272.08H468.73V273.04H470.65V274.00H472.58V274.48H473.54V275.44H476.90V275.73H477.87V277.37H493.25H493.73V281.21H499.50H499.98V287.46H500.46V288.42H500.94V293.71H505.75" stroke="#b8164a" class="c"/>
<path d="M480.47 276.17v1.6M485.17 276.17v1.6M489.87 276.17v1.6M496.33 280.01v1.6M503.54 292.51v1.6" stroke="#b8164a" class="cm"/>
<path d="M422.69 252.37H424.33V253.33H425.77V254.29H427.21V255.25H428.65V256.69H430.10V258.62H431.54V259.58H432.26V261.02H432.98V262.46H434.42V264.38H435.87V265.35H437.31V267.27H439.23V269.19H440.67V270.63H442.12V271.12H442.60V272.32H443.08V273.52H443.80V274.72H444.52V275.92H445.96V277.85H447.88V278.81H448.85V280.25H450.77H451.73V281.21H453.17V282.17H453.89V283.62H454.62V285.06H455.34V286.74H456.06V288.42H458.46V288.90H459.90V290.83H462.31V291.31H465.19H465.85V291.73H466.33V294.81H468.25V295.29H468.73V299.62H471.13H471.62V303.94H478.35H478.83V309.23H486.52H486.81V318.37H499.50H499.79V327.02H500.27V327.50H500.46V336.15" stroke="#3a5a94" class="c"/>
<path d="M474.22 302.74v1.6M481.43 308.03v1.6M489.41 317.17v1.6M494.11 317.17v1.6" stroke="#3a5a94" class="cm"/>
<path d="M422.70 249.70V339.00M419.70 336.00H509.40" class="ax"/>
<text transform="translate(416.70 338.20) scale(0.907 1)" font-size="8.60" text-anchor="end">0</text>
<text transform="translate(416.70 321.54) scale(0.907 1)" font-size="8.60" text-anchor="end">20</text>
<text transform="translate(416.70 304.88) scale(0.907 1)" font-size="8.60" text-anchor="end">40</text>
<text transform="translate(416.70 288.22) scale(0.907 1)" font-size="8.60" text-anchor="end">60</text>
<text transform="translate(416.70 271.56) scale(0.907 1)" font-size="8.60" text-anchor="end">80</text>
<text transform="translate(416.70 254.90) scale(0.907 1)" font-size="8.60" text-anchor="end">100</text>
<text transform="translate(422.70 348.60) scale(0.907 1)" font-size="8.60" text-anchor="middle">0</text>
<text transform="translate(443.52 348.60) scale(0.907 1)" font-size="8.60" text-anchor="middle">30</text>
<text transform="translate(464.35 348.60) scale(0.907 1)" font-size="8.60" text-anchor="middle">60</text>
<text transform="translate(485.18 348.60) scale(0.907 1)" font-size="8.60" text-anchor="middle">90</text>
<text transform="translate(506.00 348.60) scale(0.907 1)" font-size="8.60" text-anchor="middle">120</text>
<path d="M419.70 336.00H422.70M419.70 319.34H422.70M419.70 302.68H422.70M419.70 286.02H422.70M419.70 269.36H422.70M419.70 252.70H422.70M422.70 336.00V339.00M443.52 336.00V339.00M464.35 336.00V339.00M485.18 336.00V339.00M506.00 336.00V339.00" class="ax"/>
<text transform="translate(397.90 292.65) rotate(-90)" x="0" y="0" font-size="9.40" text-anchor="middle" textLength="52.3" lengthAdjust="spacingAndGlyphs" style="stroke-width:0.05px">Percent survival</text>
<text x="465.65" y="362.50" font-size="9.40" text-anchor="middle" textLength="43.00" lengthAdjust="spacingAndGlyphs" style="stroke-width:0.24px">Months from</text>
<text x="465.65" y="373.60" font-size="9.40" text-anchor="middle" textLength="70.20" lengthAdjust="spacingAndGlyphs" style="stroke-width:0.24px">best response (mOS)</text>
<text transform="translate(441.90 322.10) scale(0.856 1)" font-size="8.30" text-anchor="middle">CR</text>
<text transform="translate(441.30 331.60) scale(0.802 1)" font-size="8.30" text-anchor="middle"><tspan font-style="italic">P</tspan> &lt; 0.001</text>
<path d="M412.00 386.30H418.20M415.10 385.50v1.6" stroke="#b8164a" class="lm"/>
<text transform="translate(421.30 389.00) scale(0.914 1)" font-size="8.30" text-anchor="start">T<tspan font-size="5.0" dy="2.0">BR</tspan><tspan dy="-2.0" dx="2.0">&gt; 3 months, n=76</tspan></text>
<path d="M412.00 397.40H418.20M415.10 396.60v1.6" stroke="#3a5a94" class="lm"/>
<text transform="translate(421.30 400.10) scale(0.914 1)" font-size="8.30" text-anchor="start">T<tspan font-size="5.0" dy="2.0">BR</tspan><tspan dy="-2.0" dx="2.0">≤ 3 months, n=189</tspan></text>
<text transform="translate(6.90 452.50) scale(1.000 1)" font-size="11.5" font-weight="bold" style="stroke-width:0.5px">I</text>
<path d="M39.21 465.85H44.21H45.17V466.33H46.62V466.81H47.58V467.29H48.54V468.73H49.50V470.17H50.46V472.10H54.31H55.27V474.02H55.75V475.22H56.23V476.42H56.71V477.62H57.19V478.83H57.67V480.03H58.15V481.23H58.63V482.67H59.12V484.12H62.96H64.88V484.60H65.37V487.00H66.33V488.92H66.81V490.37H67.29V491.81H68.25V493.73H68.73V495.65H69.21V496.86H69.69V498.06H71.13V499.50H72.10V500.94H73.54V502.87H74.50V503.83H81.23H81.92H82.40V505.05H82.88V506.25H83.37V507.45H83.85V508.65H84.33V511.54H86.25V512.02H86.73V514.42H91.54H92.02V518.27H107.88H108.37V525.00H108.85V532.69H109.81V534.13H122.79" stroke="#b8164a" class="c"/>
<path d="M41.81 464.65v1.6M77.10 502.63v1.6M89.33 513.22v1.6M94.62 517.07v1.6M99.32 517.07v1.6M104.02 517.07v1.6M112.41 532.93v1.6M117.11 532.93v1.6" stroke="#b8164a" class="cm"/>
<path d="M39.21 465.85H43.25H44.21V467.77H45.65V469.21H47.10V470.65H48.54V472.10H49.50V474.02H49.98V475.22H50.46V476.42H51.90V477.87H52.87V479.79H53.83V481.71H54.31V483.39H54.79V485.08H55.51V486.28H56.23V487.48H57.19V488.92H57.91V490.37H58.63V491.81H59.12V493.01H59.60V494.21H60.08V495.41H60.56V496.62H61.52V498.54H62.48V499.50H63.44V500.94H64.40V502.38H64.88V502.88H65.37V504.09H65.85V505.29H66.33V506.49H66.81V507.69H68.25V509.13H69.21V510.58H70.65V511.54H71.62V512.98H73.06V514.42H74.50V515.87H75.46V517.31H76.42V518.75H77.38V519.71H79.31V520.67H80.75V522.60H82.19V523.08H84.12V523.56H86.04V524.04H87.00V525.48H87.69V527.40H91.54V527.88H92.50V529.33H96.35V529.81H97.79V531.25H108.37H108.69V532.53H109.01V533.81H109.33V535.10H122.79" stroke="#3a5a94" class="c"/>
<path d="M100.39 530.05v1.6M105.09 530.05v1.6M111.93 533.90v1.6M116.63 533.90v1.6" stroke="#3a5a94" class="cm"/>
<path d="M39.20 462.70V552.70M36.20 549.70H126.10" class="ax"/>
<text transform="translate(33.20 551.90) scale(0.907 1)" font-size="8.60" text-anchor="end">0</text>
<text transform="translate(33.20 535.10) scale(0.907 1)" font-size="8.60" text-anchor="end">20</text>
<text transform="translate(33.20 518.30) scale(0.907 1)" font-size="8.60" text-anchor="end">40</text>
<text transform="translate(33.20 501.50) scale(0.907 1)" font-size="8.60" text-anchor="end">60</text>
<text transform="translate(33.20 484.70) scale(0.907 1)" font-size="8.60" text-anchor="end">80</text>
<text transform="translate(33.20 467.90) scale(0.907 1)" font-size="8.60" text-anchor="end">100</text>
<text transform="translate(39.20 562.30) scale(0.907 1)" font-size="8.60" text-anchor="middle">0</text>
<text transform="translate(60.08 562.30) scale(0.907 1)" font-size="8.60" text-anchor="middle">30</text>
<text transform="translate(80.95 562.30) scale(0.907 1)" font-size="8.60" text-anchor="middle">60</text>
<text transform="translate(101.83 562.30) scale(0.907 1)" font-size="8.60" text-anchor="middle">90</text>
<text transform="translate(122.70 562.30) scale(0.907 1)" font-size="8.60" text-anchor="middle">120</text>
<path d="M36.20 549.70H39.20M36.20 532.90H39.20M36.20 516.10H39.20M36.20 499.30H39.20M36.20 482.50H39.20M36.20 465.70H39.20M39.20 549.70V552.70M60.08 549.70V552.70M80.95 549.70V552.70M101.83 549.70V552.70M122.70 549.70V552.70" class="ax"/>
<text transform="translate(14.40 506.00) rotate(-90)" x="0" y="0" font-size="9.40" text-anchor="middle" textLength="52.3" lengthAdjust="spacingAndGlyphs" style="stroke-width:0.05px">Percent survival</text>
<text x="82.45" y="575.70" font-size="9.40" text-anchor="middle" textLength="43.00" lengthAdjust="spacingAndGlyphs" style="stroke-width:0.24px">Months from</text>
<text x="82.45" y="586.80" font-size="9.40" text-anchor="middle" textLength="70.20" lengthAdjust="spacingAndGlyphs" style="stroke-width:0.24px">best response (mOS)</text>
<text transform="translate(56.80 535.80) scale(0.820 1)" font-size="8.30" text-anchor="middle">VGPR</text>
<text transform="translate(57.10 544.60) scale(0.878 1)" font-size="8.30" text-anchor="middle"><tspan font-style="italic">P</tspan> = 0.054</text>
<path d="M38.80 599.60H45.30M42.05 598.80v1.6" stroke="#b8164a" class="lm"/>
<text transform="translate(48.30 602.30) scale(0.914 1)" font-size="8.30" text-anchor="start">T<tspan font-size="5.0" dy="2.0">BR</tspan><tspan dy="-2.0" dx="2.0">&gt; 3 months, n=97</tspan></text>
<path d="M38.80 610.40H45.30M42.05 609.60v1.6" stroke="#3a5a94" class="lm"/>
<text transform="translate(48.30 613.10) scale(0.914 1)" font-size="8.30" text-anchor="start">T<tspan font-size="5.0" dy="2.0">BR</tspan><tspan dy="-2.0" dx="2.0">≤ 3 months, n=64</tspan></text>
<text transform="translate(134.30 452.60) scale(1.000 1)" font-size="11.5" font-weight="bold" style="stroke-width:0.5px">J</text>
<path d="M167.40 465.85H180.38V468.25H186.63H186.92V471.62H200.58H201.06V476.90H202.50V477.38V482.19H208.75V492.29H215.00H241.06H241.35V506.54H249.23H249.42V520.67H250.67V521.35H250.96V535.38" stroke="#b8164a" class="c"/>
<path d="M170.00 464.65v1.6M174.70 464.65v1.6M182.98 467.05v1.6M189.52 470.42v1.6M194.22 470.42v1.6M198.92 470.42v1.6M205.10 480.99v1.6M211.35 491.09v1.6M217.60 491.09v1.6M222.30 491.09v1.6M227.00 491.09v1.6M230.20 491.09v1.6M234.90 491.09v1.6M243.95 505.34v1.6" stroke="#b8164a" class="cm"/>
<path d="M167.40 465.85H168.85V467.77H170.29V468.25H171.73V469.69H172.45V470.89H173.17V472.10H173.65V473.38H174.13V474.66H174.62V475.94H175.58V477.38H177.02V479.31H178.46V481.23H179.42V482.67H179.90V484.36H180.38V486.04H181.35V487.96H182.79V489.88H184.71V490.37H187.12V490.85H187.60V492.05H188.08V493.25H188.56V494.45H189.04V495.65H189.52V496.86H190.00V498.06H190.48V499.26H190.96V500.46H192.88V500.94H195.29H196.25V502.87H197.69V504.31H199.13V505.75H200.58V507.19H202.02V509.12H202.98V510.56H205.38V511.04H205.48V515.87H214.62V516.35H214.94V517.88H215.26V519.42H215.58V520.96H222.31V521.15H222.79V525.00H222.98V526.35H223.17V527.69H223.37V529.04H223.56V530.38H223.75V531.73H233.85V532.21H234.33V535.58H250.67H250.96V548.56" stroke="#3a5a94" class="c"/>
<path d="M208.08 514.67v1.6M212.78 514.67v1.6M218.18 519.76v1.6M226.35 530.53v1.6M231.05 530.53v1.6M236.93 534.38v1.6M241.63 534.38v1.6M246.33 534.38v1.6" stroke="#3a5a94" class="cm"/>
<path d="M167.40 462.70V552.30M164.40 549.30H254.20" class="ax"/>
<text transform="translate(161.40 551.50) scale(0.907 1)" font-size="8.60" text-anchor="end">0</text>
<text transform="translate(161.40 534.78) scale(0.907 1)" font-size="8.60" text-anchor="end">20</text>
<text transform="translate(161.40 518.06) scale(0.907 1)" font-size="8.60" text-anchor="end">40</text>
<text transform="translate(161.40 501.34) scale(0.907 1)" font-size="8.60" text-anchor="end">60</text>
<text transform="translate(161.40 484.62) scale(0.907 1)" font-size="8.60" text-anchor="end">80</text>
<text transform="translate(161.40 467.90) scale(0.907 1)" font-size="8.60" text-anchor="end">100</text>
<text transform="translate(167.40 561.90) scale(0.907 1)" font-size="8.60" text-anchor="middle">0</text>
<text transform="translate(188.25 561.90) scale(0.907 1)" font-size="8.60" text-anchor="middle">30</text>
<text transform="translate(209.10 561.90) scale(0.907 1)" font-size="8.60" text-anchor="middle">60</text>
<text transform="translate(229.95 561.90) scale(0.907 1)" font-size="8.60" text-anchor="middle">90</text>
<text transform="translate(250.80 561.90) scale(0.907 1)" font-size="8.60" text-anchor="middle">120</text>
<path d="M164.40 549.30H167.40M164.40 532.58H167.40M164.40 515.86H167.40M164.40 499.14H167.40M164.40 482.42H167.40M164.40 465.70H167.40M167.40 549.30V552.30M188.25 549.30V552.30M209.10 549.30V552.30M229.95 549.30V552.30M250.80 549.30V552.30" class="ax"/>
<text transform="translate(142.60 505.80) rotate(-90)" x="0" y="0" font-size="9.40" text-anchor="middle" textLength="52.3" lengthAdjust="spacingAndGlyphs" style="stroke-width:0.05px">Percent survival</text>
<text x="210.60" y="575.70" font-size="9.40" text-anchor="middle" textLength="43.00" lengthAdjust="spacingAndGlyphs" style="stroke-width:0.24px">Months from</text>
<text x="210.60" y="586.80" font-size="9.40" text-anchor="middle" textLength="70.20" lengthAdjust="spacingAndGlyphs" style="stroke-width:0.24px">best response (mOS)</text>
<text transform="translate(185.00 535.80) scale(0.802 1)" font-size="8.30" text-anchor="middle">PR</text>
<text transform="translate(185.10 544.90) scale(0.802 1)" font-size="8.30" text-anchor="middle"><tspan font-style="italic">P</tspan> &lt; 0.001</text>
<path d="M166.70 599.60H173.10M169.90 598.80v1.6" stroke="#b8164a" class="lm"/>
<text transform="translate(176.30 602.30) scale(0.914 1)" font-size="8.30" text-anchor="start">T<tspan font-size="5.0" dy="2.0">BR</tspan><tspan dy="-2.0" dx="2.0">&gt; 3 months, n=99</tspan></text>
<path d="M166.70 610.30H173.10M169.90 609.50v1.6" stroke="#3a5a94" class="lm"/>
<text transform="translate(176.30 613.00) scale(0.914 1)" font-size="8.30" text-anchor="start">T<tspan font-size="5.0" dy="2.0">BR</tspan><tspan dy="-2.0" dx="2.0">≤ 3 months, n=64</tspan></text>
</svg>
</body></html>
